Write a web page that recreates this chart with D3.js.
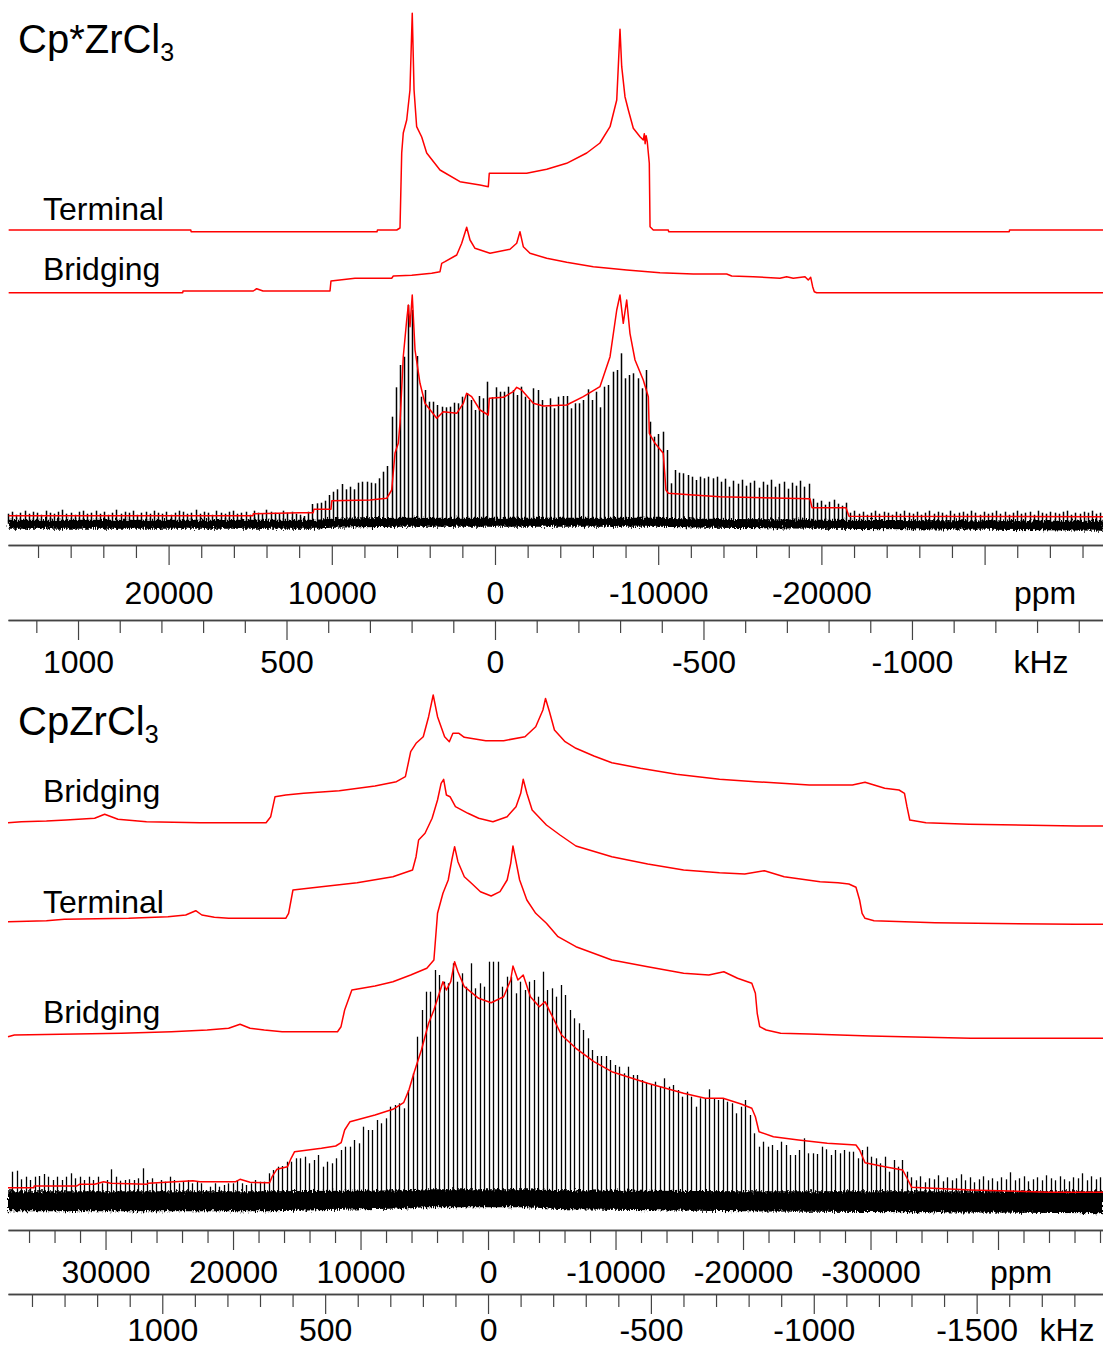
<!DOCTYPE html>
<html>
<head>
<meta charset="utf-8">
<script src="https://cdn.jsdelivr.net/npm/d3@7"></script>
<style>
  html, body { margin: 0; padding: 0; background: #fff; }
  svg { display: block; }
  text { font-family: "Liberation Sans", Arial, Helvetica, sans-serif; fill: #000; }
</style>
</head>
<body>
<svg id="chart" width="1103" height="1349"></svg>
<script>
// 35Cl static / MAS spectra of Cp*ZrCl3 and CpZrCl3 (ppm and kHz axes)
const LARMOR_MHZ = 39.14;

// ---------------- Cp*ZrCl3 ----------------
const topPpmDomain = [29840, -37255];

// simulated sites: [ppm, intensity a.u.]
const topTerminal = [
  [29800,1.7],[18640,1.7],[18620,0],[7230,0],[7200,1.7],[6020,1.7],[5820,3.7],[5716,78.7],
  [5620,98.7],[5410,111.7],[5210,141.7],[5070,218.4],[4960,141.7],[4800,105],[4490,94.7],
  [4185,78.7],[3370,61.7],[2145,50],[920,46.7],[410,45],[350,58.4],[-1940,58.4],[-3170,62.4],
  [-4390,68.4],[-5620,78.7],[-6430,88.7],[-7050,105],[-7460,131.7],[-7555,165],[-7660,202.4],
  [-7765,165],[-7965,135],[-8170,121.7],[-8475,103.4],[-8885,95],[-9085,91.7],[-9150,98],
  [-9200,88],[-9260,96],[-9330,90],[-9455,68.4],[-9500,5],[-9700,1.7],[-10620,1.7],
  [-10640,0],[-31510,0],[-31530,1.7],[-37300,1.7]
];
const topBridging = [
  [29800,0],[19135,0],[19115,1.7],[14810,1.7],[14600,4],[14215,1.7],[10110,1.7],[10050,11.7],
  [8580,14.4],[6330,14.4],[6230,16.7],[5100,17.4],[3880,19.4],[3370,21],[3265,29.4],[3065,31],
  [2345,37.7],[2040,49.4],[1735,65.4],[1530,52.7],[1225,44.4],[305,39.4],[-920,43.4],
  [-1330,49.4],[-1530,61],[-1735,46],[-2145,39.4],[-3170,34.4],[-4395,30.4],[-6025,26],
  [-8070,22.7],[-10110,20],[-12150,18.7],[-14195,18.7],[-14505,16.7],[-15825,16],[-17460,14.4],
  [-17870,16],[-18275,14.4],[-18995,16],[-19195,12.7],[-19345,15.4],[-19465,6],[-19565,1],
  [-19710,0],[-37300,0]
];
const topTotal = [
  [29800,1],[14830,1],[14810,3],[11950,4],[11135,4],[11100,7.4],[10050,7.4],[10000,16],
  [7660,16.7],[6635,18.4],[6330,26.7],[6125,63.7],[5925,73.4],[5820,93.7],[5620,160],
  [5410,196.7],[5310,211.7],[5210,190],[5070,221.7],[4900,166.7],[4595,133.4],[4290,113.4],
  [3570,98.4],[3170,105],[2345,103.4],[1940,113.4],[1735,123.4],[1430,120],[920,106.7],
  [410,101.7],[350,118.4],[-510,119.4],[-1120,125],[-1330,129.4],[-1635,126.7],[-2345,113.4],
  [-2960,110.7],[-4395,111.7],[-5410,120],[-6430,130],[-7050,160],[-7460,206.7],[-7660,221.7],
  [-7860,193.4],[-8070,216.7],[-8270,183.4],[-8580,156.7],[-9085,136.7],[-9395,120],
  [-9455,83.4],[-9805,73.4],[-10310,63.4],[-10475,26.7],[-10620,23.4],[-12150,21.7],
  [-13785,20],[-19300,18],[-19425,9],[-21505,9],[-21690,0.5],[-37300,0]
];
// spinning sidebands: first sideband frequency, spacing, heights
const topFirstKHz = 1168;
const topSpinKHz = 10;
const topSpikes = [
  3,5,2,4,6,3,5,4,2,6, 4,3,5,7,3,4,2,5,6,3, 4,6,3,5,2,4,7,3,5,4,
  6,2,4,5,3,6,4,3,5,2, 4,6,5,3,4,7,3,5,4,2, 6,4,3,5,6,3,4,5,2,6,
  4,3,7,5,4,3,6,4,5,3,
  2,0.7,5,12.7,13.4,14,16,21.7,25,27.4,32.7,27.4,30,27.4,34,35,35,34,33.4,38.4,45,50.7,100,
  129.4,151.7,160,211.7,206.7,160.7,120,126.7,115,115,111.7,110,109.4,110,114,113.4,120,123.4,
  116.7,106.7,120.7,118.4,135,119.4,129.4,125,125,130,126.7,121.7,130,120,116.7,128.4,126.7,
  116.7,110,118.4,108.4,120,120.7,120.7,108.4,113.4,113.4,116.7,127.4,116.7,125,109.4,130,
  131.7,145,146.7,163.4,138.4,141.7,143.4,138.4,128.4,146.7,95,80,82.7,85,66.7,33.4,46.7,
  44,43.4,41.7,40,36.7,40,38.4,40,38.4,40,
  35,38,30,36,33,37,31,34,36,29,35,32,37,30,33,35,28,34,31,36,30,33,
  18,14,16,12,15,17,13,11,14,
  4,6,3,5,2,4,6,3,5,4, 2,5,3,6,4,3,5,2,4,6, 3,5,4,2,6,3,4,5,3,6,
  4,2,5,3,4,6,3,5,2,4, 6,3,4,5,2,6,4,3,5,4, 3,5,6,2,4,3,5,4,6,3, 4
];
// baseline noise envelope: [ppm, upper, lower]
const topNoise = [
  [29800,-3,-12],[11000,-3,-12],[10000,-2,-11],[6000,-1,-10],[-10000,-1,-10],
  [-13000,-2,-11],[-20000,-3,-12],[-37300,-4,-14]
];
const topPpmTicks = { minorStep: 2000, minorFrom: 28000, minorTo: -36000, majors: [20000,10000,0,-10000,-20000,-30000] };
const topPpmLabels = [20000, 10000, 0, -10000, -20000];
const topKhzTicks = { minorStep: 100, minorFrom: 1100, minorTo: -1400, majors: [1000,500,0,-500,-1000] };
const topKhzLabels = [1000, 500, 0, -500, -1000];

// ---------------- CpZrCl3 ----------------
const botPpmDomain = [37650, -48235];

const botBridgingA = [
  [37650,3.3],[36600,4.3],[34635,5],[33100,6],[30855,7.7],[30070,11.7],[29025,6.7],[26790,4.3],
  [22590,3.3],[17410,3.3],[17045,9.3],[16705,29.3],[15865,31],[14465,32.7],[11665,35.3],
  [8865,40],[7185,44.3],[6480,49.3],[6065,74.3],[5645,82.7],[5080,89.3],[4660,109.3],
  [4300,131],[3960,109.3],[3405,89.3],[3035,84.3],[2755,92.7],[2280,92.7],[1860,88.7],
  [180,85.3],[-1225,85.3],[-2900,89.3],[-3740,99.3],[-4305,116],[-4510,127.5],[-4825,114],
  [-5210,96],[-6045,84.3],[-6895,77.7],[-8305,70],[-9710,63.3],[-11960,57.7],[-14775,51.7],
  [-18155,46.7],[-20970,44.3],[-25200,41],[-28580,41],[-29570,43.7],[-31115,37.7],
  [-32235,36],[-32665,32.7],[-32860,19.3],[-33080,6],[-34350,3.3],[-37725,1.7],[-46180,0],
  [-48240,0]
];
const botTerminal = [
  [37650,2.6],[34635,3.6],[33230,5],[28190,6],[25105,7.6],[23710,9.3],[22925,13.6],[22445,9.3],
  [21465,7],[20345,6],[15865,6],[15640,11],[15300,34.3],[13065,37.6],[10265,41.6],[7460,47.6],
  [5920,54.3],[5645,67.6],[5445,84.3],[4940,91],[4385,106],[3960,124.3],[3680,141],[3480,145],
  [3265,129.3],[2980,127.6],[2555,117.6],[1575,111],[735,106],[-385,102.6],[-1500,107.6],
  [-2195,117.6],[-2565,131],[-2760,145],[-3045,131],[-3460,114.3],[-4580,99.3],[-5645,89.3],
  [-6895,78.3],[-9710,67.6],[-12525,60.3],[-15340,54.3],[-18155,51.6],[-20135,50.3],
  [-21680,53.6],[-23230,47.6],[-26045,42.6],[-27450,41.6],[-28300,40.3],[-28860,37],
  [-29145,24.3],[-29340,11],[-29570,6],[-30275,3.6],[-35060,1.6],[-46040,0],[-48240,0]
];
const botBridgingB = [
  [37650,1.6],[37150,3.3],[28750,5],[24830,6.6],[22030,8.3],[20345,10],[19450,14],[18665,10],
  [17545,8.3],[16150,6.6],[11805,6.6],[11530,11.6],[11245,28.3],[10680,48.3],[8865,52.3],
  [7460,56.6],[6065,63.3],[4800,70],[4245,78.3],[3960,125],[3535,145],[3120,158.3],
  [2840,178.3],[2620,191.6],[2360,176.6],[1860,161.6],[1300,155],[595,146.6],[-245,142.3],
  [-940,146.6],[-1500,158.3],[-1780,175],[-1955,192.3],[-2120,181.6],[-2480,158.3],
  [-3045,138.3],[-3740,125],[-4580,115],[-5490,101.6],[-6895,91.6],[-9710,78.3],
  [-12525,71.6],[-15340,65],[-17315,63.3],[-18495,66.6],[-19570,60],[-20690,55],[-20970,45],
  [-21115,25],[-21310,11.6],[-21820,8.3],[-22950,5],[-25200,4.3],[-29985,2.3],[-37875,0],
  [-48240,0]
];
const botTotal = [
  [37650,4.6],[35615,4.6],[35600,6.3],[32250,6.3],[32055,8],[30855,8],[30150,10.6],[29590,9],
  [26790,8],[26650,9],[23145,11.6],[22590,10.6],[19790,10.6],[19450,13],[18665,10],
  [17130,9.6],[16935,15.6],[16565,23],[15725,25.6],[15445,34],[15170,40.6],[13065,44],
  [11945,46.3],[11520,49.6],[11245,62.3],[10825,70.6],[8865,77.3],[7460,83],[6620,89.6],
  [6205,102.3],[5780,120.6],[5225,142.3],[4660,169],[4245,182.3],[3820,199],[3535,210.6],
  [3265,202.3],[2925,210.6],[2620,230.6],[2360,220.6],[1860,205.6],[735,194],[-245,189.6],
  [-1225,195.6],[-1780,212.3],[-1955,226.3],[-2345,212.3],[-2760,217.3],[-3325,195.6],
  [-4025,185.6],[-4470,190.6],[-4925,179],[-5765,157.3],[-6895,144],[-8305,130.6],
  [-9710,120.6],[-12525,109],[-15340,99],[-17035,94],[-18440,94],[-19850,88.3],[-20690,84],
  [-20970,75.6],[-21255,60.6],[-22385,55.6],[-24350,52.3],[-26610,49],[-28860,47.3],
  [-29145,42.3],[-29570,29.6],[-31115,25.6],[-32525,22.3],[-32940,12.3],[-33225,5],
  [-37875,2.3],[-44070,0],[-48240,0]
];
const botFirstKHz = 1460;
const botSpinKHz = 13.8;
const botSpikes = [
  20.6,21.6,13,15.6,12.3,15.6,16.3,18.3,15.6,12.3, 15.6,12.3,15.6,19,14,15.6,12.3,15.6,12.3,15.6,
  9,12.3,23,15.6,11.6,12.3,13,12.3,14,24, 12.3,14,9,12.3,10.6,15.6,12.3,9,10.6,12.3,
  9,10.6,9,2.3,5.6,9,5.6,7.3,9,9, 12.3,9,7.3,9,12.3,10.6,10.6,19,22.3,25.6,
  26.3,30.6,30.6,34,34,35.6,29,32.3,37.3,25.6, 30.6,29,34,42.3,45.6,45.6,52.3,49,65.6,62.3,
  62.3,72.3,69,74,85.6,87.3,89,84,102.3,119, 155.6,182.3,200.6,200.6,222.3,217.3,210.6,209,229,210.6,
  219,205.6,229,204,209,205.6,230.6,230.6,230.6,205.6, 215.6,215.6,199,210.6,202.3,210.6,212.3,195.6,
  220.6,202.3,204,195.6,207.3,197.3,182.3,174,169,162.3, 154,142.3,136.3,136.3,136.3,132.3,127.3,125.6,119,125.6,
  117.3,117.3,112.3,109.6,107.3,110.6,105.6,114,105.6,107.3, 102.3,95.6,100.6,95.6,85.6,94,94,103,94,92.3,
  94,90.6,89,79,85.6,92.3,77.3,59,45.6,50.6, 45.6,47.3,42.3,50.6,47.3,37.3,37.3,42.3,54,39,
  39,38.3,45.6,43,37.3,42.3,39,42.3,40.6,40.6, 34,42.3,45.6,35.6,34,29,35.6,20.6,32.3,25.6,
  32.3,20.6,
  15,12,16,10,14,13,17,11,15,12, 14,18,12,15,10,13,16,12,14,11, 15,13,20,12,14,16,11,13,15,12,
  17,14,12,16,13,11,15,14,19,12, 16,13,15
];
const botNoise = [
  [37650,1,-19],[17000,1,-19],[6000,2,-16],[5000,3,-15],[-3000,3,-15],[-6000,2,-17],
  [-20000,1,-19],[-48240,1,-21]
];
const botPpmTicks = { minorStep: 2000, minorFrom: 36000, minorTo: -48000, majors: [30000,20000,10000,0,-10000,-20000,-30000,-40000] };
const botPpmLabels = [30000, 20000, 10000, 0, -10000, -20000, -30000];
const botKhzTicks = { minorStep: 100, minorFrom: 1400, minorTo: -1800, majors: [1000,500,0,-500,-1000,-1500] };
const botKhzLabels = [1000, 500, 0, -500, -1000, -1500];

// ---------------- drawing ----------------
const svg = d3.select("#chart");
const X0 = 8, X1 = 1103;
const RED = "#ff0000";

// ragged edge for the baseline noise floor
const defs = svg.append("defs");
const flt = defs.append("filter").attr("id", "ragged")
  .attr("x", "-1%").attr("y", "-60%").attr("width", "102%").attr("height", "220%");
flt.append("feTurbulence").attr("type", "fractalNoise").attr("baseFrequency", "0.9 0.25")
  .attr("numOctaves", 2).attr("seed", 7).attr("result", "turb");
flt.append("feDisplacementMap").attr("in", "SourceGraphic").attr("in2", "turb")
  .attr("scale", 7).attr("xChannelSelector", "R").attr("yChannelSelector", "G");

function makePanel(cfg) {
  const g = svg.append("g");
  const xPpm = d3.scaleLinear().domain(cfg.ppmDomain).range([X0, X1]);
  const xKhz = d3.scaleLinear()
    .domain(cfg.ppmDomain.map(p => p * LARMOR_MHZ / 1000))
    .range([X0, X1]);
  const yAt = base => d3.scaleLinear().domain([0, 250]).range([base, base - 250]);

  // measured spectrum: noise floor, sidebands, total fit
  const yExp = yAt(cfg.expBase);
  g.append("path")
    .datum(cfg.noise)
    .attr("d", d3.area().x(d => xPpm(d[0])).y0(d => yExp(d[2])).y1(d => yExp(d[1])))
    .attr("fill", "#000")
    .attr("filter", "url(#ragged)");
  const noiseMid = cfg.noiseMid;
  g.append("g").selectAll("line")
    .data(cfg.spikes.map((h, i) => ({ khz: cfg.firstKHz - cfg.spinKHz * i, h })))
    .join("line")
    .attr("x1", d => Math.round(xKhz(d.khz)) + 0.5).attr("x2", d => Math.round(xKhz(d.khz)) + 0.5)
    .attr("y1", yExp(noiseMid)).attr("y2", d => yExp(d.h))
    .attr("stroke", "#000").attr("stroke-width", cfg.spikeWidth);

  const line = y => d3.line().x(d => xPpm(d[0])).y(d => y(d[1]));
  cfg.traces.forEach(t => {
    g.append("path").datum(t.data)
      .attr("d", line(yAt(t.base)))
      .attr("fill", "none").attr("stroke", RED).attr("stroke-width", 1.5)
      .attr("stroke-linejoin", "round");
  });
  g.append("path").datum(cfg.total)
    .attr("d", line(yExp))
    .attr("fill", "none").attr("stroke", RED).attr("stroke-width", 1.5)
    .attr("stroke-linejoin", "round");

  // trace labels
  cfg.labels.forEach(l => {
    g.append("text").attr("x", 43).attr("y", l.y).attr("font-size", 32).text(l.text);
  });

  // compound name with subscript
  const title = g.append("text").attr("x", 18).attr("y", cfg.titleY).attr("font-size", 40);
  title.append("tspan").text(cfg.title);
  title.append("tspan").attr("font-size", 25).attr("dy", 8).text("3");

  // axes
  function drawAxis(scale, ticks, labels, y, labelY, unit, unitX) {
    const minors = d3.range(ticks.minorFrom, ticks.minorTo - 1, -ticks.minorStep)
      .filter(v => !ticks.majors.includes(v));
    const ag = g.append("g").attr("transform", `translate(0,${y})`);
    ag.append("g").call(d3.axisBottom(scale).tickValues(minors).tickSize(13).tickSizeOuter(0).tickFormat(""));
    const maj = ag.append("g").call(d3.axisBottom(scale).tickValues(ticks.majors).tickSize(20).tickSizeOuter(0)
      .tickFormat(v => labels.includes(v) ? String(v) : ""));
    maj.selectAll("text").attr("y", labelY).attr("dy", null)
      .attr("font-size", 32).attr("font-family", '"Liberation Sans", Arial, sans-serif').attr("fill", "#000");
    ag.selectAll(".domain").attr("stroke", "#444").attr("stroke-width", 1.3);
    ag.selectAll(".tick line").attr("stroke", "#444").attr("stroke-width", 1.2);
    ag.append("text").attr("x", unitX).attr("y", labelY).attr("text-anchor", "middle")
      .attr("font-size", 32).text(unit);
  }
  drawAxis(xPpm, cfg.ppmTicks, cfg.ppmLabels, cfg.ppmAxisY, cfg.ppmLabelDy, "ppm", cfg.ppmUnitX);
  drawAxis(xKhz, cfg.khzTicks, cfg.khzLabels, cfg.khzAxisY, cfg.khzLabelDy, "kHz", cfg.khzUnitX);
}

makePanel({
  ppmDomain: topPpmDomain,
  title: "Cp*ZrCl", titleY: 53,
  traces: [ { data: topTerminal, base: 231.7 }, { data: topBridging, base: 292.7 } ],
  labels: [ { text: "Terminal", y: 220 }, { text: "Bridging", y: 280 } ],
  total: topTotal, expBase: 516.7, noise: topNoise, noiseMid: -7,
  spikes: topSpikes, firstKHz: topFirstKHz, spinKHz: topSpinKHz, spikeWidth: 1.5,
  ppmTicks: topPpmTicks, ppmLabels: topPpmLabels, ppmAxisY: 545, ppmLabelDy: 59, ppmUnitX: 1045,
  khzTicks: topKhzTicks, khzLabels: topKhzLabels, khzAxisY: 620, khzLabelDy: 53, khzUnitX: 1041
});

makePanel({
  ppmDomain: botPpmDomain,
  title: "CpZrCl", titleY: 735,
  traces: [ { data: botBridgingA, base: 826 }, { data: botTerminal, base: 924.3 }, { data: botBridgingB, base: 1038.3 } ],
  labels: [ { text: "Bridging", y: 802 }, { text: "Terminal", y: 913 }, { text: "Bridging", y: 1023 } ],
  total: botTotal, expBase: 1192.3, noise: botNoise, noiseMid: -9,
  spikes: botSpikes, firstKHz: botFirstKHz, spinKHz: botSpinKHz, spikeWidth: 1.3,
  ppmTicks: botPpmTicks, ppmLabels: botPpmLabels, ppmAxisY: 1230, ppmLabelDy: 53, ppmUnitX: 1021,
  khzTicks: botKhzTicks, khzLabels: botKhzLabels, khzAxisY: 1294, khzLabelDy: 47, khzUnitX: 1067
});
</script>
</body>
</html>
